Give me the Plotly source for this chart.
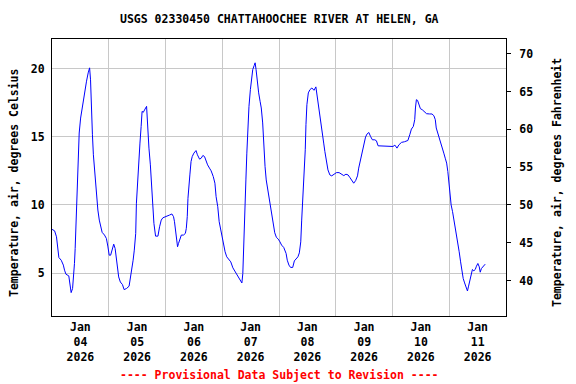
import pandas as pd
import plotly.graph_objects as go

title_text = "USGS 02330450 CHATTAHOOCHEE RIVER AT HELEN, GA"
footer_text = "---- Provisional Data Subject to Revision ----"
y_left_title = "Temperature, air, degrees Celsius"
y_right_title = "Temperature, air, degrees Fahrenheit"

start_time = "2026-01-04 00:00"
hours_since_start = [
    0.0, 1.1, 1.9, 2.5, 2.9, 3.9, 4.8, 5.3, 5.9, 7.1, 7.8, 8.1, 8.7, 9.1, 9.5, 9.8,
    10.2, 10.5, 11.1, 11.5, 12.1, 12.8, 13.3, 14.0, 14.6, 15.3, 15.9, 16.3, 16.6,
    17.1, 17.5, 18.0, 18.4, 18.8, 19.4, 20.0, 20.5, 21.2, 22.2, 23.0, 23.6, 24.2,
    24.8, 25.4, 26.1, 26.7, 27.2, 27.7, 28.2, 28.9, 29.8, 30.5, 31.5, 32.6, 33.2,
    33.7, 34.3, 34.8, 35.4, 35.7, 36.2, 36.8, 37.2, 37.7, 38.1, 38.6, 39.2, 39.6,
    40.0, 40.5, 41.0, 41.6, 42.0, 42.4, 42.7, 43.1, 43.8, 44.8, 45.5, 46.2, 46.9,
    48.3, 49.7, 50.7, 51.4, 51.8, 52.4, 53.1, 53.5, 54.1, 54.7, 55.6, 56.4, 56.8,
    57.2, 57.5, 57.9, 58.3, 58.8, 59.3, 60.0, 60.9, 61.5, 62.4, 63.1, 63.8, 64.5,
    65.1, 65.8, 66.6, 67.3, 68.2, 68.9, 69.4, 70.1, 70.7, 71.4, 72.0, 72.5, 73.2,
    73.9, 74.8, 75.6, 76.5, 77.1, 78.0, 78.8, 79.7, 80.3, 80.7, 81.1, 81.5, 82.0,
    82.4, 82.8, 83.3, 83.9, 84.3, 84.9, 85.5, 85.9, 86.3, 86.8, 87.4, 88.0, 88.5,
    89.1, 89.5, 90.1, 90.6, 91.4, 92.1, 92.8, 93.5, 94.2, 94.9, 95.7, 96.4, 97.1,
    98.0, 99.0, 99.5, 100.2, 100.9, 101.8, 102.5, 103.2, 104.0, 104.6, 105.2, 105.6,
    106.0, 106.4, 106.8, 107.1, 107.4, 107.8, 108.4, 109.1, 109.9, 110.8, 111.6,
    112.2, 112.7, 113.3, 113.7, 114.3, 114.9, 115.4, 116.0, 116.7, 117.5, 118.3,
    119.3, 120.3, 121.4, 122.6, 123.4, 124.3, 125.2, 125.9, 126.7, 127.6, 128.4,
    129.2, 129.7, 130.3, 130.9, 131.4, 132.0, 132.6, 133.2, 134.0, 134.7, 135.5,
    136.5, 137.2, 137.9, 139.3, 141.4, 142.8, 144.2, 145.0, 145.9, 146.7, 147.8,
    149.1, 150.5, 151.3, 152.0, 152.8, 153.4, 153.7, 154.1, 154.6, 155.2, 155.8,
    156.6, 157.6, 158.4, 159.7, 160.7, 161.5, 162.1, 162.5, 163.2, 163.8, 164.5,
    165.0, 165.7, 166.3, 166.9, 167.4, 167.8, 168.3, 168.8, 169.4, 169.9, 170.5,
    171.1, 171.6, 172.2, 172.8, 173.3, 173.9, 174.5, 175.0, 175.7, 176.1, 176.7,
    177.3, 177.8, 178.4, 179.0, 179.5, 180.1, 180.7, 181.1, 181.6, 182.2, 182.8, 183.2,
]
temp_c = [
    8.21, 8.1, 7.66, 6.93, 6.14, 5.94, 5.58, 5.21, 4.91, 4.79, 3.86, 3.56, 3.86, 4.6, 5.7, 6.8,
    8.77, 11.6, 13.69, 15.29, 16.39, 17.25, 17.74, 18.48, 19.1, 19.71, 20.08, 19.2, 17.0,
    15.16, 13.69, 12.46, 11.35, 10.42, 9.63, 8.89, 8.4, 7.99, 7.79, 7.54, 6.98, 6.31,
    6.31, 6.8, 7.12, 6.8, 6.07, 5.26, 4.71, 4.34, 4.15, 3.78, 3.86, 4.03, 4.6,
    5.21, 5.94, 6.68, 7.91, 10.13, 11.84, 13.19, 14.55, 15.77, 16.88, 16.81, 16.95, 17.13,
    17.25, 15.41, 14.18, 12.95, 11.84, 10.74, 9.63, 8.65, 7.71, 7.71, 8.4, 8.89, 9.06,
    9.19, 9.26, 9.34, 9.14, 8.77, 7.79, 6.93, 7.17, 7.47, 7.79, 7.79, 7.91, 8.28,
    9.14, 10.49, 11.6, 12.21, 13.19, 13.56, 13.81, 14.0, 13.69, 13.37, 13.44, 13.64, 13.56,
    13.19, 12.95, 12.71, 12.51, 12.09, 11.6, 10.61, 9.87, 8.77, 8.16, 7.54, 7.05, 6.56,
    6.19, 6.0, 5.82, 5.38, 5.21, 4.96, 4.71, 4.47, 4.27, 4.96, 6.68, 9.39, 11.84,
    13.81, 15.77, 17.25, 18.48, 19.34, 19.96, 20.25, 20.45, 19.96, 19.1, 18.24, 17.62, 17.13,
    16.03, 14.3, 12.82, 11.84, 10.98, 10.13, 9.26, 8.53, 7.96, 7.62, 7.49, 7.29, 7.05,
    6.88, 6.44, 5.94, 5.58, 5.41, 5.41, 5.89, 6.07, 6.19, 6.48, 7.29, 8.89,
    10.24, 11.35, 12.34, 14.06, 15.9, 17.37, 18.24, 18.48, 18.6, 18.43, 18.68,
    17.87, 17.25, 16.64, 15.77, 15.04, 14.55, 13.93, 13.19, 12.58, 12.21, 12.14,
    12.26, 12.38, 12.38, 12.26, 12.16, 12.26, 12.21, 12.04, 11.84, 11.6, 11.79,
    12.14, 12.71, 13.19, 13.69, 14.06, 14.55, 14.99, 15.21, 15.33, 15.04, 14.79,
    14.79, 14.72, 14.35, 14.35, 14.35, 14.3, 14.3, 14.4, 14.18, 14.42, 14.6,
    14.65, 14.74, 15.16, 15.58, 15.77, 16.27, 17.13, 17.74, 17.69, 17.37, 17.08,
    17.0, 16.81, 16.71, 16.69, 16.69, 16.56, 16.27, 15.66, 15.29, 14.92, 14.55,
    14.18, 13.81, 13.44, 13.08, 12.46, 11.72, 10.74, 10.0, 9.51, 9.02, 8.4,
    7.91, 7.29, 6.56, 5.82, 5.21, 4.6, 4.27, 4.03, 3.68, 3.98, 4.47,
    4.96, 5.26, 5.16, 5.26, 5.5, 5.7, 5.45, 5.06, 5.33, 5.45, 5.55, 5.65,
]

day_label_dates = ["2026-01-04", "2026-01-05", "2026-01-06", "2026-01-07",
                   "2026-01-08", "2026-01-09", "2026-01-10", "2026-01-11"]
day_label_text = ["Jan<br>04<br>2026", "Jan<br>05<br>2026", "Jan<br>06<br>2026",
                  "Jan<br>07<br>2026", "Jan<br>08<br>2026", "Jan<br>09<br>2026",
                  "Jan<br>10<br>2026", "Jan<br>11<br>2026"]
celsius_ticks = [5, 10, 15, 20]
fahrenheit_ticks = [40, 45, 50, 55, 60, 65, 70]
c_range = [1.84, 22.2]
x_range = ["2026-01-04 00:00", "2026-01-12 00:00"]

times = pd.Timestamp(start_time) + pd.to_timedelta(hours_since_start, unit="h")
temp_f = [c * 1.8 + 32 for c in temp_c]
f_range = [c * 1.8 + 32 for c in c_range]
label_positions = [pd.Timestamp(d) + pd.Timedelta(hours=12) for d in day_label_dates]
midnights = [pd.Timestamp(d) for d in day_label_dates[1:]]

FONT = "DejaVu Sans Mono"
tick_font = dict(family=FONT, size=11.5, color="black", weight="bold")

fig = go.Figure()
fig.add_trace(go.Scatter(x=times, y=temp_c, mode="lines",
                         line=dict(color="#0000ff", width=1), yaxis="y",
                         hoverinfo="skip", showlegend=False))
fig.add_trace(go.Scatter(x=times, y=temp_f, mode="lines",
                         line=dict(color="rgba(0,0,0,0)", width=1), yaxis="y2",
                         hoverinfo="skip", showlegend=False))

fig.update_layout(
    width=576, height=384,
    margin=dict(l=52, r=70, t=39, b=68),
    paper_bgcolor="white", plot_bgcolor="white",
    showlegend=False,
    xaxis=dict(
        range=x_range, type="date",
        tickmode="array", tickvals=label_positions, ticktext=day_label_text,
        ticks="", showgrid=False, tickfont=tick_font,
        showline=True, linecolor="black", linewidth=1, mirror=True,
        zeroline=False,
        minor=dict(tickmode="array", tickvals=midnights, showgrid=True,
                   gridcolor="#c8c8c8", gridwidth=1, ticks=""),
    ),
    yaxis=dict(
        range=c_range, tickmode="array", tickvals=celsius_ticks,
        ticks="", showgrid=True, gridcolor="#c8c8c8", gridwidth=1,
        tickfont=tick_font, zeroline=False,
        showline=True, linecolor="black", linewidth=1, mirror=True,
        ticklabelstandoff=4,
    ),
    yaxis2=dict(
        range=f_range, overlaying="y", side="right",
        tickmode="array", tickvals=fahrenheit_ticks,
        ticks="outside", ticklen=4, tickcolor="black", tickwidth=1,
        showgrid=False, zeroline=False, tickfont=tick_font,
        showline=True, linecolor="black", linewidth=1,
        ticklabelstandoff=6,
    ),
    annotations=[
        dict(text=title_text, xref="paper", yref="paper", x=0.5, y=1,
             yshift=20, xanchor="center", yanchor="middle", showarrow=False,
             font=dict(family=FONT, size=11.5, color="black", weight="bold")),
        dict(text=footer_text, xref="paper", yref="paper", x=0.5, y=0,
             yshift=-59, xanchor="center", yanchor="middle", showarrow=False,
             font=dict(family=FONT, size=11.5, color="#ff0000", weight="bold")),
        dict(text=y_left_title, xref="paper", yref="paper", x=0, y=0.48,
             xshift=-38, textangle=-90, xanchor="center", yanchor="middle",
             showarrow=False,
             font=dict(family=FONT, size=11.5, color="black", weight="bold")),
        dict(text=y_right_title, xref="paper", yref="paper", x=1, y=0.48,
             xshift=51, textangle=-90, xanchor="center", yanchor="middle",
             showarrow=False,
             font=dict(family=FONT, size=11.5, color="black", weight="bold")),
    ],
)

fig.write_html(
    "out.html",
    config={"displayModeBar": False},
    post_script="document.body.style.margin='0';document.body.style.padding='0';",
)
